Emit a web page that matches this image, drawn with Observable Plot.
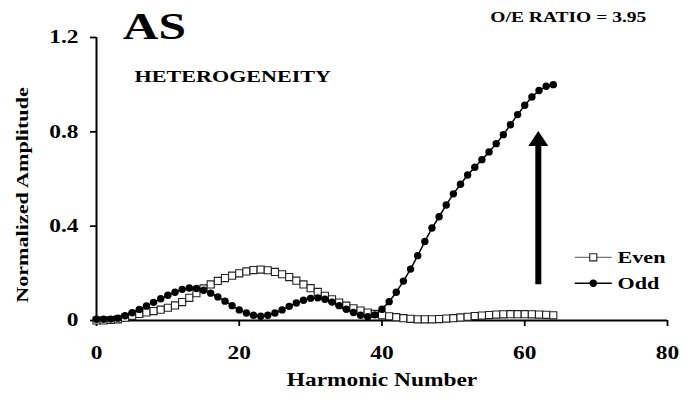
<!DOCTYPE html>
<html><head><meta charset="utf-8">
<script src="https://cdn.jsdelivr.net/npm/d3@7"></script>
<script src="https://cdn.jsdelivr.net/npm/@observablehq/plot@0.6"></script>
<style>
body{margin:0;background:#fff;}
</style></head><body><div id="chart"></div>
<script>
const harmonics = d3.range(0, 65);
const oddValues = [0.005,0.005,0.006,0.01,0.02,0.033,0.047,0.062,0.077,0.092,
  0.107,0.12,0.132,0.138,0.136,0.128,0.116,0.1,0.082,0.063,
  0.045,0.032,0.022,0.018,0.022,0.032,0.045,0.06,0.074,0.086,
  0.094,0.096,0.09,0.078,0.063,0.048,0.034,0.022,0.016,0.024,
  0.048,0.08,0.12,0.167,0.218,0.275,0.335,0.392,0.44,0.49,
  0.537,0.578,0.617,0.65,0.682,0.715,0.75,0.788,0.83,0.873,
  0.913,0.948,0.975,0.993,1.0];
const evenValues = [0.0,0.0,0.002,0.005,0.012,0.02,0.028,0.034,0.04,0.046,
  0.054,0.064,0.078,0.096,0.116,0.136,0.153,0.168,0.18,0.19,
  0.2,0.208,0.214,0.216,0.213,0.206,0.196,0.184,0.169,0.153,
  0.137,0.121,0.105,0.09,0.076,0.063,0.052,0.042,0.034,0.028,
  0.022,0.018,0.014,0.01,0.007,0.005,0.005,0.005,0.006,0.008,
  0.01,0.013,0.016,0.019,0.021,0.023,0.025,0.026,0.027,0.027,
  0.027,0.026,0.025,0.024,0.022];
const xTicks = [0, 20, 40, 60, 80];
const yTicks = [0, 0.4, 0.8, 1.2];
const seriesNames = ["Even", "Odd"];
const titleText = "AS";
const subtitleText = "HETEROGENEITY";
const ratioText = "O/E RATIO = 3.95";
const xLabel = "Harmonic Number";
const yLabel = "Normalized Amplitude";

const even = harmonics.map((h, i) => ({h, v: evenValues[i]}));
const odd = harmonics.map((h, i) => ({h, v: oddValues[i]}));

const arrowHead = {
  draw(ctx, size) {
    const s = Math.sqrt(size / Math.PI);
    ctx.moveTo(0, 0);
    ctx.lineTo(s, 1.5 * s);
    ctx.lineTo(-s, 1.5 * s);
    ctx.closePath();
  }
};

const legendY = (d, i) => (i === 0 ? 0.268 : 0.158);
const fontBase = {fontWeight: "bold"};

const plot = Plot.plot({
  width: 687,
  height: 409,
  marginLeft: 96,
  marginRight: 20,
  marginTop: 37,
  marginBottom: 89,
  style: {fontFamily: "'Liberation Serif', 'Times New Roman', serif", background: "#fff"},
  x: {domain: [0, 80]},
  y: {domain: [0, 1.2]},
  marks: [
    Plot.axisX({ticks: xTicks, tickSize: 6, tickPadding: 20, fontSize: 18, fontWeight: "bold", strokeWidth: 1.8, label: null}),
    Plot.axisY({ticks: yTicks, tickSize: 6, tickPadding: 12, fontSize: 18, fontWeight: "bold", strokeWidth: 1.8, label: null,
      tickFormat: d => d === 0 ? "0" : d.toFixed(1)}),
    Plot.ruleY([0], {strokeWidth: 2, stroke: "#000"}),
    Plot.ruleX([0], {strokeWidth: 2, stroke: "#000"}),
    // Even series
    Plot.line(even, {x: "h", y: "v", stroke: "#555", strokeWidth: 1, strokeDasharray: "1.5,2"}),
    Plot.dot(even, {x: "h", y: "v", symbol: "square", r: 4, fill: "#fff", stroke: "#222", strokeWidth: 1.1}),
    // Odd series
    Plot.line(odd, {x: "h", y: "v", stroke: "#000", strokeWidth: 1.5}),
    Plot.dot(odd, {x: "h", y: "v", r: 3.7, fill: "#000"}),
    // Arrow
    Plot.ruleX([61.9], {y1: 0.152, y2: 0.75, strokeWidth: 6, stroke: "#000"}),
    Plot.dot([0], {x: 61.9, y: 0.804, symbol: arrowHead, r: 10, fill: "#000", stroke: "none"}),
    // Legend
    Plot.link(seriesNames, {x1: 67.0, x2: 72.2, y1: legendY, y2: legendY,
      stroke: (d, i) => i === 0 ? "#555" : "#000",
      strokeWidth: (d, i) => i === 0 ? 1 : 1.5,
      strokeDasharray: (d, i) => i === 0 ? "1.5,2" : null}),
    Plot.dot(seriesNames.slice(0, 1), {x: 69.6, y: 0.268, symbol: "square", r: 4, fill: "#fff", stroke: "#222", strokeWidth: 1.1}),
    Plot.dot(seriesNames.slice(1), {x: 69.6, y: 0.158, r: 3.7, fill: "#000"}),
    Plot.text(seriesNames, {x: 73.0, y: legendY, text: d => d, textAnchor: "start", fontSize: 17, ...fontBase, fill: "#000"}),
    // Annotations
    Plot.text([titleText], {x: 8.1, y: 1.245, text: d => d, fontSize: 38, ...fontBase, fill: "#000"}),
    Plot.text([subtitleText], {x: 19.1, y: 1.033, text: d => d, fontSize: 17, ...fontBase, fill: "#000"}),
    Plot.text([ratioText], {x: 66.1, y: 1.287, text: d => d, fontSize: 15, ...fontBase, fill: "#000"}),
    // Axis labels
    Plot.text([xLabel], {frameAnchor: "bottom", dy: 65, text: d => d, fontSize: 18, ...fontBase, fill: "#000"}),
    Plot.text([yLabel], {frameAnchor: "left", textAnchor: "middle", dx: -74, dy: 16, rotate: -90, text: d => d, fontSize: 17, ...fontBase, fill: "#000"})
  ]
});
document.getElementById("chart").appendChild(plot);
const STRETCH = 1.3;
plot.querySelectorAll("text").forEach(t => {
  const w = t.getComputedTextLength();
  if (w > 0) {
    t.setAttribute("textLength", (w * STRETCH).toFixed(1));
    t.setAttribute("lengthAdjust", "spacingAndGlyphs");
  }
});
</script></body></html>
